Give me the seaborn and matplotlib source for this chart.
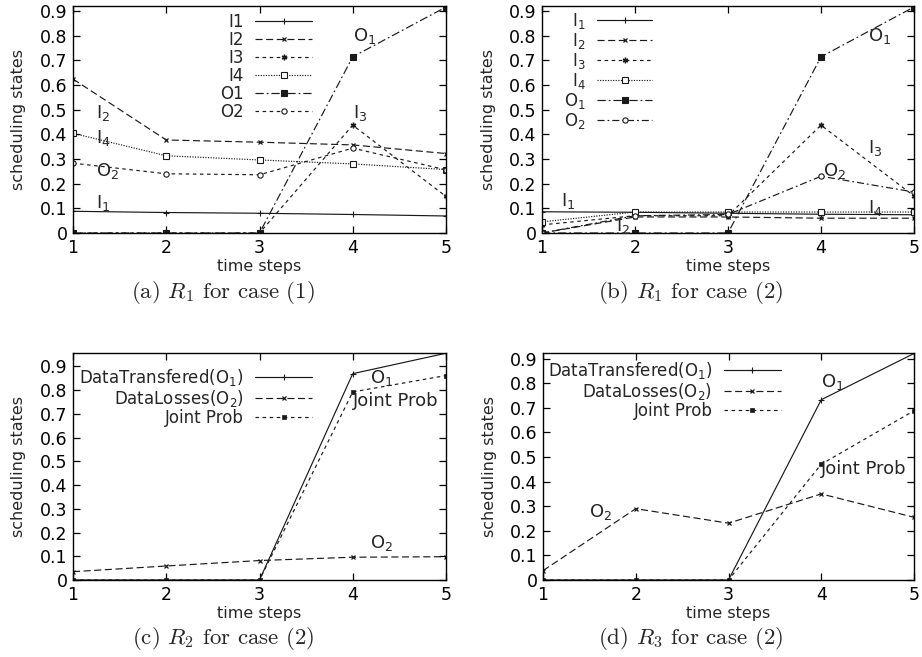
import matplotlib
matplotlib.use("Agg")
import matplotlib.pyplot as plt
import seaborn as sns
import pandas as pd

# ---------------- data ----------------
steps = [1, 2, 3, 4, 5]
x_tick_labels = ["1", "2", "3", "4", "5"]
y_ticks = [0, 0.1, 0.2, 0.3, 0.4, 0.5, 0.6, 0.7, 0.8, 0.9]
y_tick_labels = ["0", "0.1", "0.2", "0.3", "0.4", "0.5", "0.6", "0.7", "0.8", "0.9"]

# (a) R1 for case (1)
a_I1 = [0.088, 0.083, 0.080, 0.075, 0.069]
a_I2 = [0.624, 0.377, 0.368, 0.357, 0.322]
a_I3 = [0.0, 0.0, 0.0, 0.437, 0.148]
a_I4 = [0.404, 0.313, 0.296, 0.280, 0.257]
a_O1 = [0.0, 0.0, 0.0, 0.714, 0.916]
a_O2 = [0.283, 0.240, 0.236, 0.344, 0.256]

# (b) R1 for case (2)
b_I1 = [0.086, 0.084, 0.080, 0.076, 0.074]
b_I2 = [0.0, 0.065, 0.065, 0.060, 0.060]
b_I3 = [0.033, 0.070, 0.070, 0.437, 0.150]
b_I4 = [0.045, 0.085, 0.085, 0.085, 0.085]
b_O1 = [0.0, 0.0, 0.0, 0.714, 0.916]
b_O2 = [0.0, 0.070, 0.075, 0.230, 0.166]

# (c) R2 for case (2)
c_data = [0.0, 0.0, 0.0, 0.869, 0.955]
c_loss = [0.035, 0.059, 0.082, 0.096, 0.098]
c_joint = [0.0, 0.0, 0.0, 0.792, 0.861]

# (d) R3 for case (2)
d_data = [0.0, 0.0, 0.0, 0.733, 0.921]
d_loss = [0.038, 0.290, 0.231, 0.350, 0.255]
d_joint = [0.0, 0.0, 0.0, 0.471, 0.688]

legend_a = ["I1", "I2", "I3", "I4", "O1", "O2"]
legend_b = ["I$_1$", "I$_2$", "I$_3$", "I$_4$", "O$_1$", "O$_2$"]
legend_cd = ["DataTransfered(O$_1$)", "DataLosses(O$_2$)", "Joint Prob"]
captions = [r"(a) $\mathit{R}_1$ for case (1)", r"(b) $\mathit{R}_1$ for case (2)",
            r"(c) $\mathit{R}_2$ for case (2)", r"(d) $\mathit{R}_3$ for case (2)"]

# ---------------- style ----------------
sns.set_style("ticks")
plt.rcParams["font.family"] = ["DejaVu Sans"]
plt.rcParams["mathtext.fontset"] = "dejavusans"
plt.rcParams["mathtext.default"] = "regular"

FS_TICK = 12.5
FS_LAB = 11.5
FS_LEG = 12
FS_ANN = 13
LW = 0.85
INK = "#1a1a1a"

sty = {
    "I1": dict(linestyle="-", marker="+", ms=5, mew=0.8),
    "I2": dict(linestyle=(0, (6, 3)), marker="x", ms=3.5, mew=0.9),
    "I3": dict(linestyle=(0, (3, 3)), marker=(6, 2, 0), ms=4, mew=1.0),
    "I4": dict(linestyle=(0, (1, 1.2)), marker="s", ms=3.8, mfc="white", mew=0.8),
    "O1": dict(linestyle=(0, (7, 2.5, 1.5, 2.5)), marker="s", ms=4.2, mew=0.8),
    "O2a": dict(linestyle=(0, (3, 3)), marker="o", ms=3.8, mfc="white", mew=0.8),
    "O2b": dict(linestyle=(0, (6, 2.5, 1.5, 2.5)), marker="o", ms=3.8, mfc="white", mew=0.8),
    "joint": dict(linestyle=(0, (3, 3)), marker="s", ms=2.6, mew=0.5),
}

W, H = 922, 657
fig = plt.figure(figsize=(W / 100, H / 100), dpi=100)


def px_axes(l, r, t, b):
    return fig.add_axes([l / W, 1 - b / H, (r - l) / W, (b - t) / H])


def draw(ax, yvals, label, style):
    df = pd.DataFrame({"x": steps, "y": yvals})
    sns.lineplot(data=df, x="x", y="y", ax=ax, color=INK, lw=LW, label=label,
                 mec=INK, **style)


def finish(ax, ytop, caption, cap_x, cap_y):
    ax.set_xlim(1, 5)
    ax.set_ylim(0, ytop)
    ax.set_xticks(steps)
    ax.set_xticklabels(x_tick_labels)
    ax.set_yticks(y_ticks)
    ax.set_yticklabels(y_tick_labels)
    ax.tick_params(direction="in", length=5, width=0.9, top=True, right=True,
                   labelsize=FS_TICK, colors="black", pad=4)
    for s in ax.spines.values():
        s.set_visible(True)
        s.set_linewidth(1.0)
        s.set_color("black")
    ax.set_xlabel("time steps", fontsize=FS_LAB, labelpad=1.5)
    ax.set_ylabel("scheduling states", fontsize=FS_LAB)
    ax.yaxis.set_label_coords(-0.125, 0.5)
    fig.text(cap_x / W, 1 - cap_y / H, caption, family="cmr10", math_fontfamily="cm",
             fontsize=16.5, ha="center", va="center")


def legend(ax, anchor, hl=3.4):
    ax.legend(loc="upper right", bbox_to_anchor=anchor, frameon=False, markerfirst=False,
              fontsize=FS_LEG, handlelength=hl, handletextpad=0.7, labelspacing=0.0,
              borderpad=0, borderaxespad=0)


# ---- (a) ----
axa = px_axes(73, 446, 6, 233)
draw(axa, a_I1, legend_a[0], sty["I1"])
draw(axa, a_I2, legend_a[1], sty["I2"])
draw(axa, a_I3, legend_a[2], sty["I3"])
draw(axa, a_I4, legend_a[3], sty["I4"])
draw(axa, a_O1, legend_a[4], sty["O1"])
draw(axa, a_O2, legend_a[5], sty["O2a"])
finish(axa, 0.92, captions[0], 223, 292)
legend(axa, (0.641, 0.97))
for tx, ty, s in [(4.0, 0.80, "O$_1$"), (1.25, 0.485, "I$_2$"), (1.25, 0.384, "I$_4$"),
                  (1.25, 0.25, "O$_2$"), (1.25, 0.12, "I$_1$"), (4.0, 0.485, "I$_3$")]:
    axa.text(tx, ty, s, fontsize=FS_ANN, ha="left", va="center")

# ---- (b) ----
axb = px_axes(542, 914, 6, 233)
draw(axb, b_I1, legend_b[0], sty["I1"])
draw(axb, b_I2, legend_b[1], sty["I2"])
draw(axb, b_I3, legend_b[2], sty["I3"])
draw(axb, b_I4, legend_b[3], sty["I4"])
draw(axb, b_O1, legend_b[4], sty["O1"])
draw(axb, b_O2, legend_b[5], sty["O2b"])
finish(axb, 0.92, captions[1], 691, 292)
legend(axb, (0.296, 0.98), hl=3.3)
for tx, ty, s in [(4.5, 0.80, "O$_1$"), (4.5, 0.344, "I$_3$"), (4.02, 0.25, "O$_2$"),
                  (4.5, 0.10, "I$_4$"), (1.2, 0.128, "I$_1$"), (1.8, 0.027, "I$_2$")]:
    axb.text(tx, ty, s, fontsize=FS_ANN, ha="left", va="center")

# ---- (c) ----
axc = px_axes(73, 446, 353, 580)
draw(axc, c_data, legend_cd[0], sty["I1"])
draw(axc, c_loss, legend_cd[1], sty["I2"])
draw(axc, c_joint, legend_cd[2], sty["joint"])
finish(axc, 0.956, captions[2], 223, 638)
legend(axc, (0.641, 0.94))
for tx, ty, s in [(4.19, 0.85, "O$_1$"), (4.0, 0.752, "Joint Prob"), (4.19, 0.155, "O$_2$")]:
    axc.text(tx, ty, s, fontsize=FS_ANN, ha="left", va="center")

# ---- (d) ----
axd = px_axes(543, 914, 353, 580)
draw(axd, d_data, legend_cd[0], sty["I1"])
draw(axd, d_loss, legend_cd[1], sty["I2"])
draw(axd, d_joint, legend_cd[2], sty["joint"])
finish(axd, 0.923, captions[3], 691, 638)
legend(axd, (0.641, 0.97))
for tx, ty, s in [(4.0, 0.807, "O$_1$"), (4.0, 0.45, "Joint Prob"), (1.5, 0.278, "O$_2$")]:
    axd.text(tx, ty, s, fontsize=FS_ANN, ha="left", va="center")

fig.savefig("out.png", dpi=100)
